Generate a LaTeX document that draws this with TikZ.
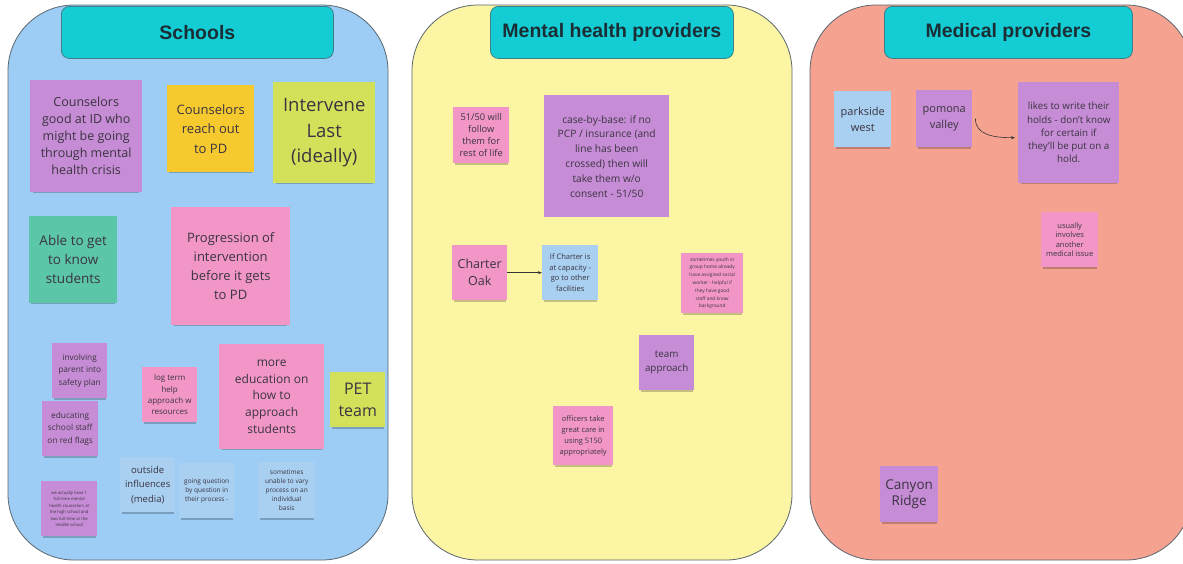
\documentclass[tikz,border=0pt]{standalone}
\usepackage{fontspec}
\setmainfont{Open Sans}
\newfontfamily\headfont{Liberation Sans}
\usetikzlibrary{shadows,arrows.meta}
\hyphenpenalty=10000
\exhyphenpenalty=10000
\definecolor{panelline}{HTML}{5A6670}
\definecolor{bluepanel}{HTML}{9DCDF4}
\definecolor{yellowpanel}{HTML}{FCF5A4}
\definecolor{salmonpanel}{HTML}{F6A291}
\definecolor{headcyan}{HTML}{14CDD4}
\definecolor{headline}{HTML}{3E7E86}
\definecolor{headtext}{HTML}{1B2E36}
\definecolor{stpurple}{HTML}{C78CD6}
\definecolor{styellow}{HTML}{F6CA2F}
\definecolor{stlime}{HTML}{D3E15A}
\definecolor{stteal}{HTML}{5CC6A9}
\definecolor{stpink}{HTML}{F296C7}
\definecolor{stblue}{HTML}{A9CFF1}
\definecolor{sttext}{HTML}{3A3440}
\tikzset{
  panel/.style={draw=panelline, line width=0.8pt, rounded corners=66pt},
  header/.style={draw=headline, fill=headcyan, rounded corners=8pt, line width=0.8pt,
    font=\headfont\bfseries\fontsize{19.5}{21}\selectfont, text=headtext},
  sticky/.style={anchor=north west, inner sep=1pt, align=center, text=sttext,
    drop shadow={shadow xshift=0pt, shadow yshift=-3.5pt, opacity=0.22, fill=black, shadow scale=0.95}},
  conn/.style={draw=black!80, line width=0.6pt, -{Stealth[length=4pt,width=3pt]}}
}
% \stk{name}{x}{y}{w}{h}{colour}{fontsize}{baselineskip}{text}
\newcommand{\stk}[9]{\node[sticky, fill=#6, minimum width=#4pt, minimum height=#5pt,
  font=\fontsize{#7}{#8}\selectfont] (#1) at (#2,#3) {#9};}
\begin{document}
\begin{tikzpicture}[x=1pt,y=-1pt]
\useasboundingbox (0,0) rectangle (1183,563);
\fill[white] (0,0) rectangle (1183,563);
% panels
\draw[panel, fill=bluepanel] (8,5) rectangle (388,560);
\draw[panel, fill=yellowpanel] (412,5) rectangle (792,560);
\draw[panel, fill=salmonpanel] (810,5) rectangle (1192,560);
\node[header, minimum width=272pt, minimum height=52pt, anchor=north west] (hschools) at (61,6) {Schools};
\node[header, minimum width=243pt, minimum height=52pt, anchor=north west] (hmental) at (490,6) {Mental health providers};
\node[header, minimum width=248pt, minimum height=52pt, anchor=north west] (hmedical) at (884,6) {Medical providers};
% Schools stickies
\stk{s1}{30}{80}{112}{112}{stpurple}{12.5}{17}{Counselors\\good at ID who\\might be going\\through mental\\health crisis}
\stk{s2}{167}{85}{87}{87}{styellow}{13}{19.5}{Counselors\\reach out\\to PD}
\stk{s3}{273}{82}{102}{101}{stlime}{18.5}{25.5}{Intervene\\Last\\(ideally)}
\stk{s4}{29}{216}{88}{87}{stteal}{13.5}{19}{Able to get\\to know\\students}
\stk{s5}{171}{207}{119}{118}{stpink}{13}{19}{Progression of\\intervention\\before it gets\\to PD}
\stk{s6}{52}{343}{55}{55}{stpurple}{8.3}{12.8}{involving\\parent into\\safety plan}
\stk{s7}{42}{401}{56}{55}{stpurple}{8.3}{12.3}{educating\\school staff\\on red flags}
\stk{s8}{142}{367}{55}{55}{stpink}{8}{11.4}{log term\\help\\approach w\\resources}
\stk{s9}{219}{344}{105}{105}{stpink}{12}{16.8}{more\\education on\\how to\\approach\\students}
\stk{s10}{330}{372}{55}{55}{stlime}{16}{22}{PET\\team}
\stk{s11}{41}{481}{56}{55}{stpurple}{4.2}{6.5}{we actually have 1\\full-time mental\\health counselors at\\the high school and\\two full-time at the\\middle school}
\stk{s12}{120}{457}{55}{55}{stblue}{9.5}{14.5}{outside\\influences\\(media)}
\stk{s13}{179}{463}{55}{55}{stblue}{6.5}{9}{going question\\by question in\\their process -}
\stk{s14}{258}{462}{57}{56}{stblue}{6.5}{9}{sometimes\\unable to vary\\process on an\\individual\\basis}
% Mental health stickies
\stk{m1}{453}{107}{56}{56}{stpink}{9.3}{12}{51/50 will\\follow\\them for\\rest of life}
\stk{m2}{544}{95}{125}{122}{stpurple}{10.2}{14.8}{case-by-base: if no\\PCP / insurance (and\\line has been\\crossed) then will\\take them w/o\\consent - 51/50}
\stk{m3}{452}{245}{55}{55}{stpink}{12.5}{17}{Charter\\Oak}
\stk{m4}{542}{245}{56}{55}{stblue}{7.5}{10.8}{If Charter is\\at capacity -\\go to other\\facilities}
\stk{m5}{681}{253}{62}{60}{stpink}{4.8}{7.8}{sometimes youth in\\group home already\\have assigned social\\worker - helpful if\\they have good\\staff and know\\background}
\stk{m6}{639}{335}{55}{55}{stpurple}{9.8}{14}{team\\approach}
\stk{m7}{553}{406}{60}{59}{stpink}{7.5}{11}{officers take\\great care in\\using 5150\\appropriately}
% Medical stickies
\stk{d1}{834}{91}{57}{56}{stblue}{11}{16}{parkside\\west}
\stk{d2}{916}{90}{56}{57}{stpurple}{11}{16}{pomona\\valley}
\stk{d3}{1018}{82}{101}{101}{stpurple}{9.8}{13.2}{likes to write their\\holds - don't know\\for certain if\\they'll be put on a\\hold.}
\stk{d4}{1041}{212}{57}{55}{stpink}{7.5}{9.5}{usually\\involves\\another\\medical issue}
\stk{d5}{880}{466}{58}{56}{stpurple}{13.5}{16.7}{Canyon\\Ridge}
% connectors
\draw[conn] (m3.east) -- (m4.west);
\draw[conn] ([xshift=3pt]d2.east) .. controls +(0,16) and +(-22,0) .. ([xshift=-3pt,yshift=-5pt]d3.west);
\end{tikzpicture}
\end{document}
